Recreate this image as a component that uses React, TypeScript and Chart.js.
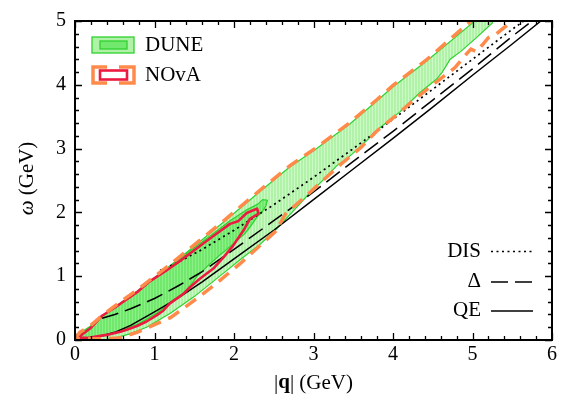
import React, { useEffect, useRef } from 'react';
import { Chart, registerables } from 'chart.js';

Chart.register(...registerables);

// ---- axis ticks ----
const xTickValues = [0, 1, 2, 3, 4, 5, 6];
const yTickValues = [0, 1, 2, 3, 4, 5];
const minorStep = 0.2;

// ---- reference lines ----
const qeQ = [0.1, 0.3, 0.5, 0.7, 1.0, 1.3, 1.6, 2.0, 2.5, 3.0, 3.5, 4.0, 4.5, 5.0, 5.5, 5.86];
const qeW = [0.01, 0.05, 0.12, 0.23, 0.44, 0.66, 0.91, 1.27, 1.72, 2.2, 2.68, 3.16, 3.65, 4.15, 4.64, 5.0];

const deltaQ = [0.34, 0.5, 0.7, 1.0, 1.3, 1.6, 2.0, 2.5, 3.0, 3.5, 4.0, 4.5, 5.0, 5.5, 5.75];
const deltaW = [0.34, 0.4, 0.49, 0.65, 0.85, 1.07, 1.42, 1.87, 2.32, 2.8, 3.27, 3.76, 4.25, 4.76, 5.0];

const disQ = [1.07, 1.3, 1.6, 2.0, 2.5, 3.0, 3.5, 4.0, 4.5, 5.0, 5.5, 5.7];
const disW = [1.09, 1.22, 1.42, 1.72, 2.12, 2.55, 3.0, 3.46, 3.93, 4.4, 4.87, 5.05];

// ---- DUNE outer contour (light green) ----
const duneOuterQ = [0, 0.06, 0.19, 0.34, 0.55, 0.8, 1.2, 1.5, 1.9, 2.3, 2.7, 3.04, 3.46, 3.8, 4.0, 4.42, 5.0, 5.04,
  5.25, 5.25, 5.05, 4.85, 4.72, 4.62, 4.55, 4.34, 4.09, 3.84, 3.58, 3.4, 3.3, 3.14, 2.95, 2.73, 2.52, 2.31, 2.1, 1.9, 1.7, 1.5, 1.2, 0.9, 0.7, 0.5, 0.35, 0];
const duneOuterW = [0, 0.11, 0.21, 0.36, 0.56, 0.78, 1.17, 1.47, 1.88, 2.3, 2.71, 3.0, 3.39, 3.75, 3.97, 4.37, 4.97, 5.05,
  5.05, 4.97, 4.74, 4.52, 4.4, 4.2, 4.09, 3.88, 3.58, 3.33, 3.02, 2.82, 2.74, 2.53, 2.3, 2.0, 1.72, 1.48, 1.28, 1.08, 0.88, 0.68, 0.42, 0.2, 0.1, 0.03, 0, 0];

// ---- DUNE inner contour (mid green) ----
const duneInnerQ = [0, 0.1, 0.34, 0.78, 1.15, 1.45, 1.74, 1.95, 2.16, 2.3, 2.36, 2.42, 2.4,
  2.35, 2.29, 2.22, 2.14, 2.01, 1.89, 1.82, 1.66, 1.53, 1.45, 1.36, 1.24, 1.03, 0.78, 0.48, 0.19, 0];
const duneInnerW = [0, 0.12, 0.37, 0.76, 1.11, 1.4, 1.67, 1.87, 2.04, 2.13, 2.2, 2.19, 2.1,
  2.0, 1.93, 1.8, 1.67, 1.53, 1.4, 1.33, 1.15, 0.99, 0.85, 0.73, 0.63, 0.42, 0.24, 0.11, 0.04, 0];

// ---- NOvA inner contour (red) ----
const novaInnerQ = [0.03, 0.19, 0.34, 0.48, 0.78, 0.94, 1.15, 1.3, 1.45, 1.6, 1.74, 1.95, 2.05, 2.16, 2.29, 2.31,
  2.2, 2.12, 1.99, 1.87, 1.74, 1.57, 1.45, 1.36, 1.19, 1.1, 1.03, 0.9, 0.78, 0.65, 0.57, 0.4, 0.19, 0.03];
const novaInnerW = [0.03, 0.18, 0.38, 0.49, 0.75, 0.92, 1.09, 1.22, 1.36, 1.5, 1.63, 1.82, 1.86, 1.99, 2.06, 1.98,
  1.9, 1.72, 1.48, 1.3, 1.12, 0.96, 0.83, 0.72, 0.57, 0.45, 0.39, 0.29, 0.22, 0.16, 0.13, 0.08, 0.04, 0.03];

// ---- NOvA outer contour (orange dashed) ----
const novaOuterQ = [0, 0.06, 0.19, 0.34, 0.55, 0.8, 1.2, 1.5, 1.9, 2.3, 2.7, 3.04, 3.46, 3.8, 4.0, 4.42, 4.98, 5.0,
  5.52, 5.49, 5.45, 5.3, 5.2, 5.12, 5.05, 4.98, 4.9, 4.78, 4.5, 4.25, 4.05, 3.8, 3.6, 3.33, 3.1, 2.9, 2.65, 2.52, 2.3, 2.08, 1.75, 1.5, 1.2, 0.78, 0.55, 0.3, 0];
const novaOuterW = [0.02, 0.12, 0.22, 0.38, 0.58, 0.8, 1.19, 1.49, 1.9, 2.32, 2.73, 3.02, 3.41, 3.77, 3.99, 4.39, 5.0, 5.08,
  5.08, 5.0, 4.95, 4.8, 4.74, 4.62, 4.52, 4.56, 4.45, 4.27, 4.0, 3.75, 3.53, 3.28, 3.02, 2.74, 2.48, 2.25, 1.98, 1.7, 1.45, 1.2, 0.86, 0.62, 0.35, 0.12, 0.03, 0.02, 0.02];

const FONT = '"Liberation Serif", "DejaVu Serif", serif';
const GREEN_LINE = '#2ed12e';
const ORANGE = '#ff8a4a';
const RED = '#ec1a40';

function pts(qs: number[], ws: number[]) {
  return qs.map((q, i) => ({ x: q, y: ws[i] }));
}

function makePattern(ctx: CanvasRenderingContext2D, base: string, stripe: string) {
  const c = document.createElement('canvas');
  c.width = 3;
  c.height = 1;
  const g = c.getContext('2d')!;
  g.fillStyle = base;
  g.fillRect(0, 0, 3, 1);
  g.fillStyle = stripe;
  g.fillRect(0, 0, 1, 1);
  return ctx.createPattern(c, 'repeat') as CanvasPattern;
}

function drawParts(ctx: CanvasRenderingContext2D, parts: { t: string; f: string }[], cx: number, cy: number) {
  let total = 0;
  const widths = parts.map((p) => {
    ctx.font = p.f;
    const w = ctx.measureText(p.t).width;
    total += w;
    return w;
  });
  let x = cx - total / 2;
  ctx.textAlign = 'left';
  ctx.textBaseline = 'middle';
  parts.forEach((p, i) => {
    ctx.font = p.f;
    ctx.fillText(p.t, x, cy);
    x += widths[i];
  });
}

const framePlugin = {
  id: 'frameTicks',
  afterDatasetsDraw(chart: any) {
    const { ctx, chartArea: a, scales } = chart;
    const xs = scales.x;
    const ys = scales.y;
    ctx.save();
    ctx.strokeStyle = '#000';
    ctx.lineWidth = 1.3;
    ctx.beginPath();
    const nx = Math.round((xs.max - xs.min) / minorStep);
    for (let i = 0; i <= nx; i++) {
      const v = xs.min + i * minorStep;
      const major = xTickValues.some((t) => Math.abs(t - v) < 1e-6);
      const len = major ? 7 : 4;
      const px = Math.round(xs.getPixelForValue(v)) + 0.5;
      ctx.moveTo(px, a.bottom);
      ctx.lineTo(px, a.bottom - len);
      ctx.moveTo(px, a.top);
      ctx.lineTo(px, a.top + len);
    }
    const ny = Math.round((ys.max - ys.min) / minorStep);
    for (let i = 0; i <= ny; i++) {
      const v = ys.min + i * minorStep;
      const major = yTickValues.some((t) => Math.abs(t - v) < 1e-6);
      const len = major ? 7 : 4;
      const py = Math.round(ys.getPixelForValue(v)) + 0.5;
      ctx.moveTo(a.left, py);
      ctx.lineTo(a.left + len, py);
      ctx.moveTo(a.right, py);
      ctx.lineTo(a.right - len, py);
    }
    ctx.stroke();
    ctx.lineWidth = 2;
    ctx.strokeRect(a.left, a.top, a.right - a.left, a.bottom - a.top);
    ctx.restore();
  },
};

const annotatePlugin = {
  id: 'annotate',
  afterDraw(chart: any) {
    const { ctx, chartArea: a } = chart;
    ctx.save();
    ctx.fillStyle = '#000';

    // axis titles
    drawParts(ctx, [
      { t: '|', f: `21px ${FONT}` },
      { t: 'q', f: `bold 21px ${FONT}` },
      { t: '| (GeV)', f: `21px ${FONT}` },
    ], (a.left + a.right) / 2, 383);
    ctx.save();
    ctx.translate(27, (a.top + a.bottom) / 2 - 2);
    ctx.rotate(-Math.PI / 2);
    drawParts(ctx, [
      { t: 'ω', f: `italic 21px ${FONT}` },
      { t: ' (GeV)', f: `21px ${FONT}` },
    ], 0, 0);
    ctx.restore();

    // top-left legend
    const lx = a.left + 17;
    const ly = a.top + 16;
    // DUNE swatch
    ctx.fillStyle = '#b0f2a8';
    ctx.fillRect(lx, ly, 42, 16);
    ctx.strokeStyle = GREEN_LINE;
    ctx.lineWidth = 1.3;
    ctx.strokeRect(lx, ly, 42, 16);
    ctx.fillStyle = '#72e96e';
    ctx.fillRect(lx + 8, ly + 4, 27, 8);
    ctx.strokeRect(lx + 8, ly + 4, 27, 8);
    // NOvA swatch: dashed outer drawn as two brackets
    const ny = ly + 30;
    ctx.strokeStyle = ORANGE;
    ctx.lineWidth = 3.5;
    ctx.lineJoin = 'miter';
    ctx.beginPath();
    ctx.moveTo(lx + 15, ny);
    ctx.lineTo(lx + 1, ny);
    ctx.lineTo(lx + 1, ny + 16);
    ctx.lineTo(lx + 15, ny + 16);
    ctx.moveTo(lx + 27, ny);
    ctx.lineTo(lx + 42, ny);
    ctx.lineTo(lx + 42, ny + 16);
    ctx.lineTo(lx + 27, ny + 16);
    ctx.stroke();
    ctx.strokeStyle = RED;
    ctx.lineWidth = 2.6;
    ctx.strokeRect(lx + 8, ny + 3.5, 27, 9);

    ctx.fillStyle = '#000';
    ctx.font = `21px ${FONT}`;
    ctx.textAlign = 'left';
    ctx.textBaseline = 'middle';
    ctx.fillText('DUNE', lx + 53, ly + 8.5);
    ctx.fillText('NOvA', lx + 53, ny + 8.5);

    // bottom-right legend
    const tx = a.right - 71;
    const x0 = a.right - 61;
    const x1 = a.right - 19;
    const rows = [
      { t: 'DIS', y: 251, dash: [2, 3.5] },
      { t: 'Δ', y: 281.5, dash: [17, 7] },
      { t: 'QE', y: 310.5, dash: [] as number[] },
    ];
    ctx.textAlign = 'right';
    rows.forEach((r) => {
      ctx.fillStyle = '#000';
      ctx.font = `21px ${FONT}`;
      ctx.fillText(r.t, tx, r.y);
      ctx.strokeStyle = '#000';
      ctx.lineWidth = r.t === 'DIS' ? 1.6 : 1.5;
      ctx.setLineDash(r.dash);
      ctx.beginPath();
      ctx.moveTo(x0, r.y + 0.5);
      ctx.lineTo(x1, r.y + 0.5);
      ctx.stroke();
    });
    ctx.setLineDash([]);
    ctx.restore();
  },
};

export default function App() {
  const ref = useRef<HTMLCanvasElement>(null);
  useEffect(() => {
    document.body.style.margin = '0';
    const canvas = ref.current!;
    const ctx = canvas.getContext('2d')!;
    const lightFill = makePattern(ctx, '#b0f2a8', '#cdf9c7');
    const midFill = makePattern(ctx, '#70e86c', '#8cef88');

    const chart = new Chart(ctx, {
      type: 'line',
      data: {
        datasets: [
          {
            label: 'NOvA outer',
            data: pts(novaOuterQ, novaOuterW),
            borderColor: ORANGE,
            borderWidth: 3.5,
            borderDash: [13, 8],
            fill: false,
            order: 0,
          },
          {
            label: 'NOvA inner',
            data: pts(novaInnerQ, novaInnerW),
            borderColor: RED,
            borderWidth: 2.6,
            borderJoinStyle: 'round',
            fill: false,
            order: 1,
          },
          {
            label: 'DIS',
            data: pts(disQ, disW),
            borderColor: '#000',
            borderWidth: 1.7,
            borderDash: [2, 3.5],
            fill: false,
            order: 2,
          },
          {
            label: 'Δ',
            data: pts(deltaQ, deltaW),
            borderColor: '#000',
            borderWidth: 1.5,
            borderDash: [17, 7],
            fill: false,
            order: 2,
          },
          {
            label: 'QE',
            data: pts(qeQ, qeW),
            borderColor: '#000',
            borderWidth: 1.5,
            fill: false,
            order: 2,
          },
          {
            label: 'DUNE inner',
            data: pts(duneInnerQ, duneInnerW),
            borderColor: GREEN_LINE,
            borderWidth: 1.2,
            backgroundColor: midFill,
            fill: 'shape',
            order: 3,
          },
          {
            label: 'DUNE outer',
            data: pts(duneOuterQ, duneOuterW),
            borderColor: GREEN_LINE,
            borderWidth: 1.2,
            backgroundColor: lightFill,
            fill: 'shape',
            order: 4,
          },
        ] as any,
      },
      options: {
        responsive: false,
        animation: false,
        devicePixelRatio: 1,
        layout: { padding: { top: 20, right: 9, left: 0, bottom: 0 } },
        elements: { point: { radius: 0, hoverRadius: 0 }, line: { tension: 0 } },
        datasets: { line: { clip: 0 } as any },
        plugins: { legend: { display: false }, tooltip: { enabled: false } },
        events: [],
        scales: {
          x: {
            type: 'linear',
            min: 0,
            max: 6,
            grid: { display: false, drawTicks: false },
            border: { display: false },
            ticks: {
              stepSize: 1,
              autoSkip: false,
              maxRotation: 0,
              padding: 3,
              color: '#000',
              font: { family: FONT, size: 20 },
            },
            afterFit: (s: any) => { s.height = 60; },
          },
          y: {
            type: 'linear',
            min: 0,
            max: 5,
            grid: { display: false, drawTicks: false },
            border: { display: false },
            ticks: {
              stepSize: 1,
              autoSkip: false,
              padding: 9,
              color: '#000',
              font: { family: FONT, size: 20 },
            },
            afterFit: (s: any) => { s.width = 75; },
          },
        },
      } as any,
      plugins: [framePlugin, annotatePlugin],
    });
    return () => chart.destroy();
  }, []);
  return (
    <div style={{ width: 561, height: 400 }}>
      <canvas ref={ref} width={561} height={400} style={{ display: 'block' }} />
    </div>
  );
}
